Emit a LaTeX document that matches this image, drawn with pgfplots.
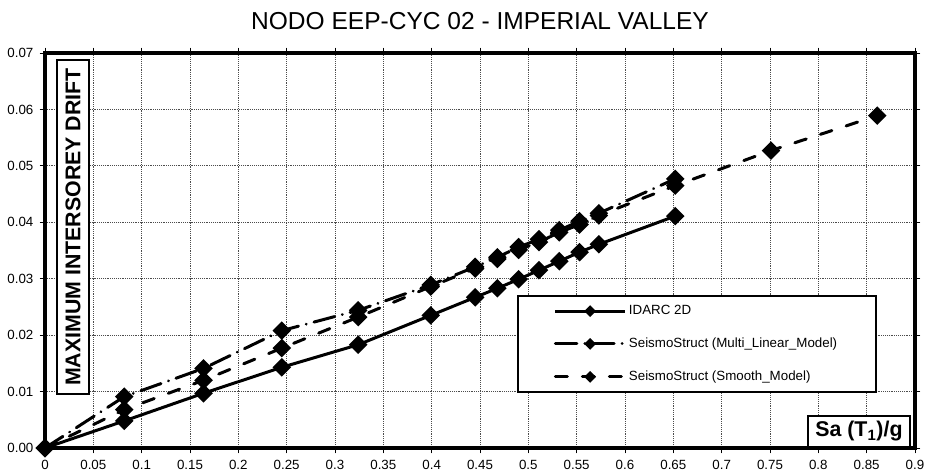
\documentclass[border=0pt]{standalone}
\usepackage{fontspec}
\setmainfont{Liberation Sans}
\usepackage{pgfplots}
\pgfplotsset{compat=1.18}
\begin{document}
\begin{tikzpicture}
\begin{axis}[
  name=ax,
  scale only axis, width=652.5pt, height=296.25pt,
  xmin=0, xmax=0.9, ymin=0, ymax=0.07,
  xtick={0,0.05,0.1,0.15,0.2,0.25,0.3,0.35,0.4,0.45,0.5,0.55,0.6,0.65,0.7,0.75,0.8,0.85,0.9},
  ytick={0,0.01,0.02,0.03,0.04,0.05,0.06,0.07},
  scaled ticks=false,
  xticklabel style={/pgf/number format/fixed, /pgf/number format/precision=2, yshift=-1.3pt},
  yticklabel style={/pgf/number format/fixed, /pgf/number format/fixed zerofill, /pgf/number format/precision=2, xshift=-1.2pt},
  /pgf/number format/assume math mode=true,
  tick label style={font=\fontsize{10}{12}\selectfont},
  grid=major,
  grid style={densely dotted, black!70, line width=0.6pt},
  axis line style={line width=2.6pt},
  tick align=outside, major tick length=4pt,
  every tick/.style={black, line width=0.6pt},
  clip mode=individual,
  title={NODO EEP-CYC 02 - IMPERIAL VALLEY},
  title style={font=\fontsize{18.4}{22}\selectfont, at={(0.5,1)}, anchor=center, yshift=17.8pt},
  legend style={at={(0.5425,0.387)}, anchor=north west, draw=black, line width=1.5pt, fill=white,
    font=\fontsize{10}{12}\selectfont, inner xsep=27pt, inner ysep=5pt, row sep=12pt, cells={anchor=west}},
  legend image code/.code={\draw[mark repeat=2, mark phase=2, #1, mark size=2pt] plot coordinates {(0pt,0pt) (26pt,0pt) (52pt,0pt)};},
]
\addplot[black, line width=2.25pt, mark=square*, mark size=3.8pt, mark options={solid, rotate=45}]
coordinates {(0,0) (0.082,0.0048) (0.164,0.0097) (0.245,0.0143) (0.324,0.0183) (0.399,0.0235) (0.445,0.0267) (0.468,0.0283) (0.490,0.0299) (0.511,0.0315) (0.532,0.0331) (0.553,0.0347) (0.573,0.0361) (0.652,0.0411)};
\addlegendentry{IDARC 2D}
\addplot[black, line width=2.25pt, line cap=round, dash pattern=on 16pt off 6pt on 0.01pt off 6pt, mark=square*, mark size=3.8pt, mark options={solid, rotate=45}]
coordinates {(0,0) (0.082,0.0091) (0.164,0.0141) (0.245,0.0208) (0.324,0.0244) (0.399,0.0289) (0.445,0.0321) (0.468,0.0338) (0.490,0.0356) (0.511,0.0370) (0.532,0.0386) (0.553,0.0402) (0.573,0.0416) (0.652,0.0477)};
\addlegendentry{SeismoStruct (Multi\_Linear\_Model)}
\addplot[black, line width=2.25pt, line cap=round, dash pattern=on 9pt off 11.25pt, mark=square*, mark size=3.8pt, mark options={solid, rotate=45}]
coordinates {(0,0) (0.082,0.0068) (0.164,0.0120) (0.245,0.0177) (0.324,0.0232) (0.399,0.0286) (0.445,0.0318) (0.468,0.0335) (0.490,0.0351) (0.511,0.0365) (0.532,0.0382) (0.553,0.0396) (0.573,0.0412) (0.652,0.0465) (0.751,0.0527) (0.861,0.0589)};
\addlegendentry{SeismoStruct (Smooth\_Model)}
\node[draw, line width=1.5pt, fill=white, rotate=90, font=\bfseries\fontsize{16}{19}\selectfont, minimum width=250pt, minimum height=24pt, inner sep=0pt] at (rel axis cs:0.0322,0.5595) {MAXIMUM INTERSOREY DRIFT};
\node[draw, line width=1.5pt, fill=white, font=\bfseries\fontsize{16}{19}\selectfont, minimum width=76.5pt, minimum height=23pt, inner sep=0pt] at (rel axis cs:0.9356,0.0418) {Sa (T\textsubscript{1})/g};
\end{axis}
\pgfresetboundingbox
\path ([shift={(-33.75pt,-18.75pt)}]ax.south west) rectangle ([shift={(662.25pt,336pt)}]ax.south west);
\end{tikzpicture}
\end{document}
